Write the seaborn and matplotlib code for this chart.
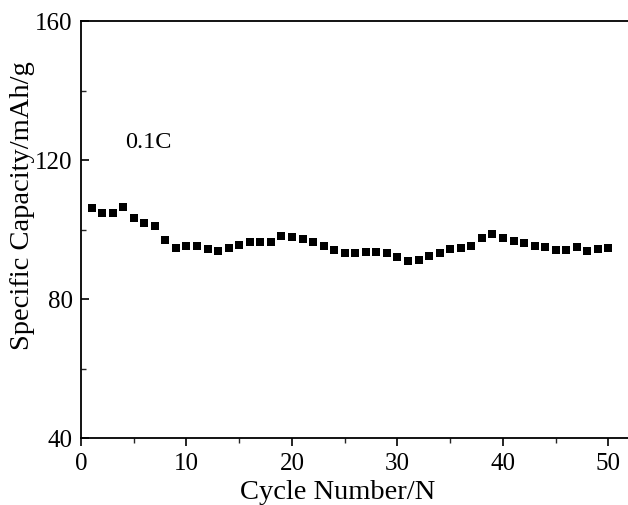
import numpy as np
import pandas as pd
import matplotlib
matplotlib.use("Agg")
import matplotlib.pyplot as plt
import seaborn as sns
from matplotlib.ticker import MultipleLocator

# Discharge capacity per cycle at 0.1C
cycles = list(range(1, 51))
capacity = [
    106.2, 104.7, 104.7, 106.4, 103.4, 101.8, 100.9, 97.1, 94.6, 95.3,
    95.2, 94.5, 93.8, 94.8, 95.6, 96.3, 96.3, 96.3, 98.0, 97.8,
    97.4, 96.5, 95.2, 94.0, 93.2, 93.1, 93.6, 93.6, 93.2, 92.0,
    90.9, 91.3, 92.4, 93.1, 94.4, 94.6, 95.3, 97.6, 98.6, 97.6,
    96.8, 96.2, 95.3, 95.1, 94.2, 94.2, 94.9, 93.7, 94.3, 94.7,
]
x_ticks = [0, 10, 20, 30, 40, 50]
y_ticks = [40, 80, 120, 160]
rate_label = "0.1C"

df = pd.DataFrame({"cycle": cycles, "capacity": capacity})

sns.set_theme(style="ticks")
plt.rcParams["font.family"] = ["Liberation Serif", "DejaVu Serif"]

fig = plt.figure(figsize=(6.28, 5.06), dpi=100)
ax = fig.add_axes([81 / 628, 67 / 506, 1 - 81 / 628, 417 / 506])

sns.scatterplot(data=df, x="cycle", y="capacity", marker="s", s=38,
                color="black", edgecolor="black", linewidth=0, ax=ax)

ax.set_xlim(0, 51.85)
ax.set_ylim(40, 160)
ax.set_xticks(x_ticks)
ax.set_yticks(y_ticks)
ax.xaxis.set_minor_locator(MultipleLocator(5))
ax.yaxis.set_minor_locator(MultipleLocator(20))

ax.spines["right"].set_visible(False)
for side in ("left", "bottom", "top"):
    ax.spines[side].set_linewidth(1.3)
    ax.spines[side].set_color("black")

ax.tick_params(axis="x", which="major", direction="out", length=6, width=1.2,
               labelsize=18, colors="black", pad=4)
ax.tick_params(axis="x", which="minor", direction="out", length=3.5, width=1.0)
ax.tick_params(axis="y", which="major", direction="in", length=6, width=1.2,
               labelsize=18, colors="black", pad=6)
ax.tick_params(axis="y", which="minor", direction="in", length=3.5, width=1.0)

ax.set_xlabel("Cycle Number/N", fontsize=20.5, color="black", labelpad=4, x=0.47)
ax.set_ylabel("Specific Capacity/mAh/g", fontsize=20.5, color="black", labelpad=0,
              y=0.56)

ax.text(4.15, 125.3, rate_label, fontsize=17.5, color="black", ha="left", va="center")

fig.savefig("out.png", dpi=100, facecolor="white")
